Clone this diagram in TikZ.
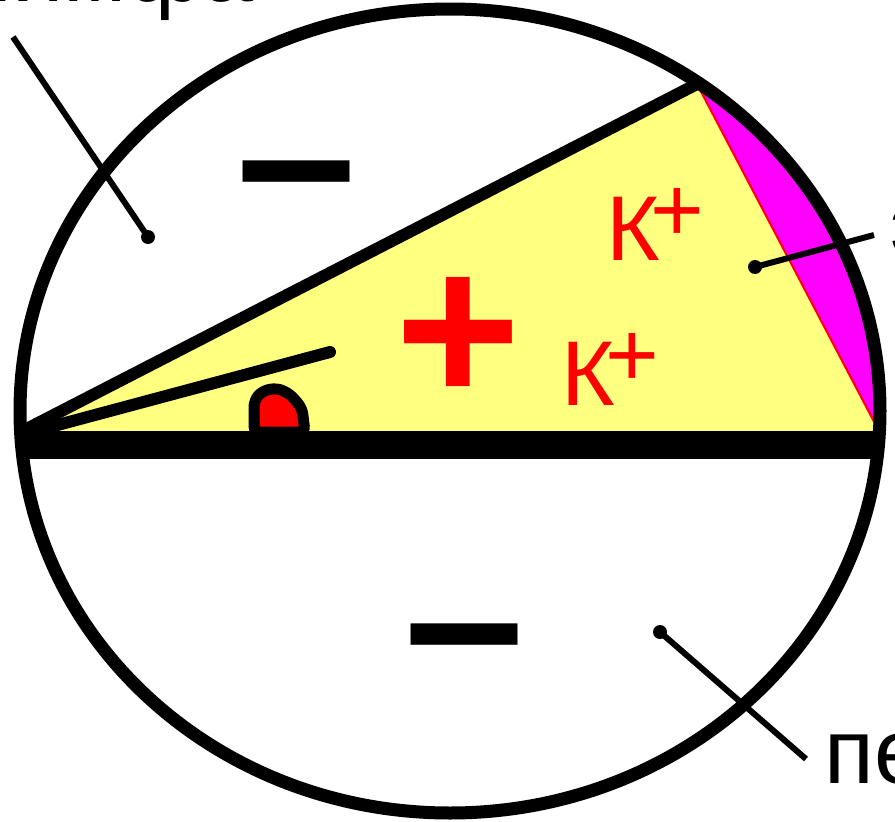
\documentclass[tikz,border=0pt]{standalone}
\usepackage{fontspec}
\setmainfont{Liberation Sans}
\definecolor{lyellow}{RGB}{255,255,128}
\definecolor{mag}{RGB}{255,0,255}
\begin{document}
\begin{tikzpicture}[x=1pt,y=-1pt,
  lbl/.style={inner sep=0pt, font=\fontsize{92}{100}\selectfont},
  kion/.style={inner sep=0pt, text=red, font=\fontsize{92}{100}\selectfont},
  sign/.style={inner sep=0pt, font=\bfseries\fontsize{#1}{#1}\selectfont},
  dotmark/.style={circle, fill=black, inner sep=0pt, minimum size=14pt},
  pointer/.style={line width=6pt}]
\useasboundingbox (0,0) rectangle (895,822);
\coordinate (L) at (20.6,432);
\coordinate (T) at (697,84);
\coordinate (R) at (879.4,432);
\coordinate (HL) at (15,445);
\coordinate (HR) at (885,445);
\coordinate (TM) at (330,352);
\coordinate (TS) at (24,434);
% fills
\fill[lyellow] (L) -- (T) -- (R) -- cycle;
\begin{scope}
  \clip (450,411) ellipse [x radius=430, y radius=402];
  \fill[mag] (T) -- (R) -- (950,432) -- (950,-20) -- (697,-20) -- cycle;
  \draw[line width=28pt] (HL) -- (HR);
\end{scope}
\draw[red, line width=2pt] (T) -- (R);
% membranes
\draw[line width=12pt] (L) -- (T);
\draw[line width=12pt, line cap=round] (TS) -- (TM);
% organ
\draw[line width=11pt, fill=red, rounded corners=6pt]
  (254,432) -- (254,401) -- (262,391) -- (277,388) -- (290,394) -- (302,408) -- (305,432) -- cycle;
% outer wall
\draw[line width=13pt] (450,411) ellipse [x radius=430, y radius=402];
% signs
\node[sign=216, anchor=base] (m1) at (297,229) {–};
\node[sign=216, anchor=base] (m2) at (465,692) {–};
\node[sign=215, text=red] (plus) at (458,340) {+};
\node[kion, anchor=base west] (k1) at (606,260) {К\kern-0.1em\raisebox{0.2em}{+}};
\node[kion, anchor=base west] (k2) at (561,405) {К\kern-0.1em\raisebox{0.2em}{+}};
% labels
\node[lbl, anchor=base east] (t1) at (254,1) {перилимфа};
\node[lbl, anchor=base west] (t2) at (890,255) {эндолимфа};
\node[lbl, anchor=base west] (t3) at (824,783) {перилимфа};
% pointers
\node[dotmark] (d1) at (148,237) {};
\node[dotmark] (d2) at (755,267) {};
\node[dotmark] (d3) at (660,632) {};
\coordinate (e1) at (13,37);
\coordinate (e2) at (874,235);
\coordinate (e3) at (806,759);
\draw[pointer] (e1) -- (d1.center);
\draw[pointer] (d2.center) -- (e2);
\draw[pointer] (d3.center) -- (e3);
\end{tikzpicture}
\end{document}
